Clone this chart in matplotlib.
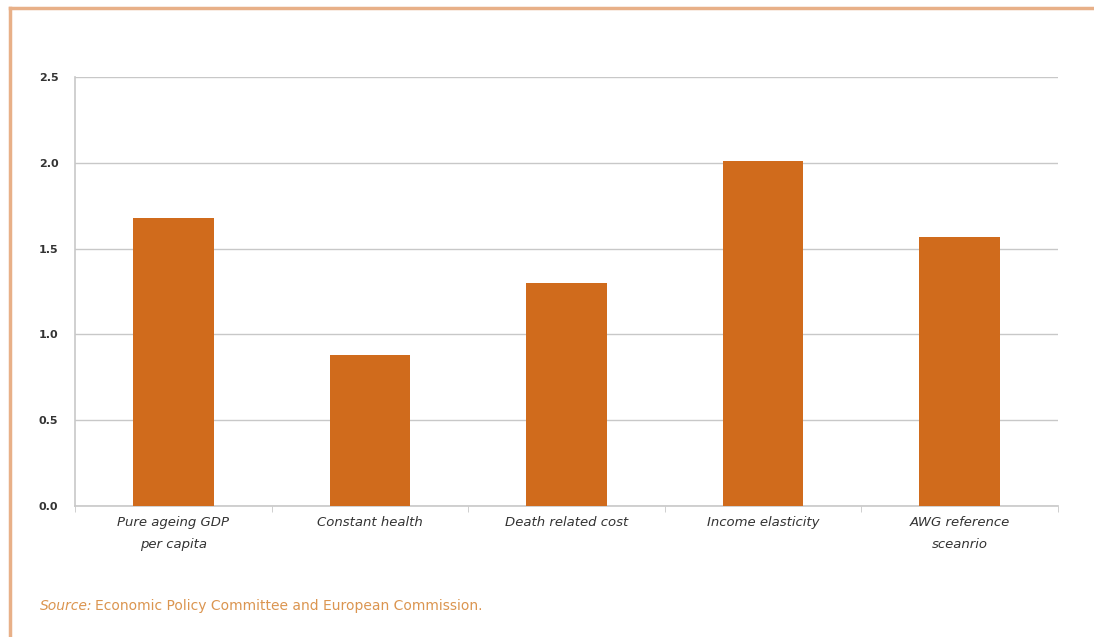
import matplotlib
matplotlib.use("Agg")
import matplotlib.pyplot as plt
from matplotlib.lines import Line2D

categories = ["Pure ageing GDP\nper capita", "Constant health", "Death related cost",
              "Income elasticity", "AWG reference\nsceanrio"]
values = [1.68, 0.88, 1.30, 2.01, 1.57]
yticks = [0.0, 0.5, 1.0, 1.5, 2.0, 2.5]

W, H = 1094, 637
fig = plt.figure(figsize=(W / 100, H / 100), dpi=100)
fig.patch.set_facecolor("white")

ax = fig.add_axes([75 / W, 1 - 506 / H, (1058 - 75) / W, (506 - 77) / H])
x = list(range(len(categories)))
ax.bar(x, values, width=0.41, color="#D06B1C", zorder=3)
ax.set_xlim(-0.5, len(categories) - 0.5)
ax.set_ylim(0, 2.5)
ax.set_yticks(yticks)
ax.set_yticklabels([f"{v:.1f}" for v in yticks], fontsize=8, color="#333333", fontweight="bold")
ax.yaxis.grid(True, color="#C8C8C8", linewidth=1.0, zorder=0)
ax.tick_params(axis="y", length=0, pad=12)
ax.set_xticks(x)
ax.set_xticklabels(categories, fontsize=9.5, style="italic", color="#333333", linespacing=1.9)
ax.set_xticks([i + 0.5 for i in range(-1, len(categories))], minor=True)
ax.tick_params(axis="x", which="major", length=0, pad=7)
ax.tick_params(axis="x", which="minor", length=4, color="#C8C8C8", direction="out")
for s in ["top", "right"]:
    ax.spines[s].set_visible(False)
ax.spines["left"].set_color("#C8C8C8")
ax.spines["bottom"].set_color("#C8C8C8")
ax.spines["left"].set_linewidth(1.2)
ax.spines["bottom"].set_linewidth(1.2)

# border frame (top and left)
fig.add_artist(Line2D([10 / W, 1.0], [1 - 8 / H, 1 - 8 / H], color="#E8B088", linewidth=2.5))
fig.add_artist(Line2D([10 / W, 10 / W], [1 - 8 / H, 0.0], color="#E8B088", linewidth=2.5))

fig.text(40 / W, 1 - 606 / H, "Source:", fontsize=10, style="italic", color="#DB9550", va="center")
fig.text(95 / W, 1 - 606 / H, "Economic Policy Committee and European Commission.", fontsize=10,
         color="#DB9550", va="center")

fig.savefig("out.png", dpi=100)
